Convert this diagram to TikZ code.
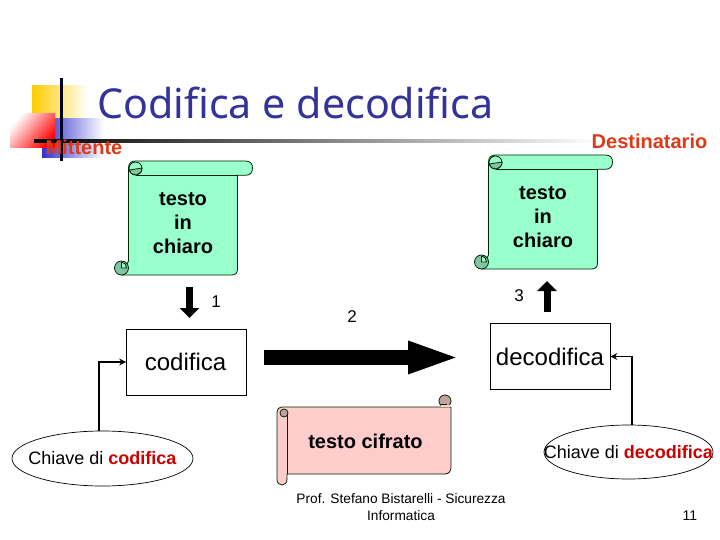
\documentclass[tikz,border=0pt]{standalone}
\usepackage{fontspec}
\setmainfont{Liberation Sans}
\newfontfamily\titlefont{Noto Sans}
\usetikzlibrary{arrows.meta,shapes.geometric}
\definecolor{mint}{HTML}{99FFCC}
\definecolor{mintdark}{HTML}{80C4A3}
\definecolor{rosey}{HTML}{FFCCCC}
\definecolor{rosedark}{HTML}{C4A0A0}
\definecolor{navy}{HTML}{333399}
\definecolor{keyred}{HTML}{CC0000}
\definecolor{tagred}{HTML}{DD3A1A}
\definecolor{tplyellow}{HTML}{FFCC00}
\definecolor{tplblue}{HTML}{3333CC}
\tikzset{
  x=1pt,y=-1pt,
  outl/.style={draw=black!85!green,line width=0.8pt,line join=round},
  tag/.style={font=\fontsize{20}{24}\selectfont\bfseries,text=tagred,inner sep=0pt},
  scrolltxt/.style={font=\fontsize{20}{24}\selectfont\bfseries,align=center,inner sep=0pt,text=black},
  boxy/.style={draw=black,line width=0.7pt,minimum width=120pt,font=\fontsize{24}{28}\selectfont,inner sep=0pt},
  keyell/.style={ellipse,draw=black,line width=0.7pt,inner sep=0pt},
  keytxt/.style={inner sep=0pt,font=\fontsize{18}{22}\selectfont},
  num/.style={font=\fontsize{17}{20}\selectfont,inner sep=0pt},
  blockarrow/.style={draw=black,line width=7pt,-{Triangle[length=10pt,width=19pt]}},
  linkarrow/.style={draw=black,line width=1.8pt,-{Stealth[length=7pt,width=7pt]}},
  greenscroll/.pic={
    \path[outl,fill=mint] (0,7) .. controls (0,2) and (3,0) .. (7,0) -- (117,0)
      .. controls (122,0) and (124,3) .. (124,7) .. controls (124,11) and (122,14.3) .. (117,14.3)
      -- (109,14.3) -- (109,108) .. controls (109,112) and (107,114) .. (103,114) -- (-7,114)
      -- (0,100) -- cycle;
    \path[outl] (7,14.3) -- (109,14.3);
    \path[outl,fill=mintdark] (-7,107) circle[radius=7pt];
    \path[outl,fill=mint] (-7,107) -- (-7,101) .. controls (-4,101) and (-2,104) .. (-2,107) -- cycle;
    \path[outl] (7,7.5) circle[radius=6.5pt];
    \path[outl,fill=mintdark] (1,9) .. controls (2,13) and (5,14) .. (8,14) .. controls (11,13) and (13.5,11) .. (13.5,7) -- cycle;
  }
}
\begin{document}
\begin{tikzpicture}
\useasboundingbox (0,0) rectangle (720,540);
\fill[white] (0,0) rectangle (720,540);
% template decoration
\shade[left color=tplyellow,middle color=tplyellow,right color=white] (32,86) rectangle (88,119);
\shade[left color=tplblue,middle color=tplblue,right color=white] (42,119) rectangle (104,158);
\shade[left color=white,right color=red,shading angle=50] (10,114) rectangle (55,148);
\shade[left color=black,right color=white] (34,140) rectangle (600,143);
\fill[black!85!blue] (60,78) rectangle (63,161);
\node[inner sep=0pt,text=navy,font=\titlefont\fontsize{41.2}{48}\selectfont,anchor=center] (title) at (295.5,103) {Codifica e decodifica};
\node[tag] (mitt) at (84,147) {Mittente};
\node[tag] (dest) at (649.5,141) {Destinatario};
% scrolls
\pic at (128.5,161) {greenscroll};
\pic at (488.5,155) {greenscroll};
\node[scrolltxt] (sL) at (183,223) {testo\hspace{6pt}\\in\hspace{6pt}\\chiaro};
\node[scrolltxt] (sR) at (543,217) {testo\hspace{6pt}\\in\hspace{6pt}\\chiaro};
% pink scroll
\path[outl,fill=rosedark] (445,401) circle[radius=6pt];
\path[outl,fill=rosey] (277,413) .. controls (277,409) and (279,407) .. (283,407) -- (451,407)
  -- (451,467) .. controls (451,471) and (449,474) .. (445,474) -- (287,474) -- (287,479)
  .. controls (287,483) and (285,485) .. (282,485) .. controls (279,485) and (277,483) .. (277,479) -- cycle;
\path[outl] (287,474) -- (287,414);
\path[draw=none,fill=rosey] (440.5,404.5) rectangle (449.5,406.5);
\path[outl] (440,404.5) -- (447,404.5);
\path[outl,fill=rosedark] (284,413) circle[radius=4pt];
\node[scrolltxt] (sC) at (365.5,441) {testo cifrato};
% boxes
\node[boxy,minimum height=66pt] (cod) at (186.5,362) {\hspace{-2pt}codifica};
\node[boxy,minimum height=66pt] (dec) at (550,356.5) {decodifica};
\node[keyell,minimum width=181pt,minimum height=55pt] (keyL) at (102.5,458.5) {};
\node[keyell,minimum width=169pt,minimum height=54pt] (keyR) at (628.5,452) {};
\node[keytxt] (keyLt) at (102.5,458.5) {Chiave di \textcolor{keyred}{\textbf{codifica}}};
\node[keytxt] (keyRt) at (628.5,452) {Chiave di \textcolor{keyred}{\textbf{decodifica}}};
% connectors
\coordinate (d1s) at (189.5,287);
\coordinate (d1e) at (189.5,318);
\coordinate (d3s) at (547,312);
\coordinate (d3e) at (547,281);
\coordinate (bigS) at (264,357.5);
\coordinate (bigE) at (461,357.5);
\draw[blockarrow] (d1s) -- (d1e);
\draw[blockarrow] (d3s) -- (d3e);
\draw[draw=black,line width=15pt,-{Triangle[length=53pt,width=29pt]}] (bigS) -- (bigE);
\draw[linkarrow] ([xshift=-3.5pt]keyL.north) |- (cod.west);
\draw[linkarrow] ([xshift=3.5pt]keyR.north) |- (dec.east);
\node[num] (n1) at (216,302) {1};
\node[num] (n2) at (352,317) {2};
\node[num] (n3) at (519,296) {3};
\node[align=center,inner sep=0pt,font=\fontsize{13.7}{17}\selectfont] (foot) at (401,507.5) {Prof. Stefano Bistarelli - Sicurezza\\Informatica};
\node[inner sep=0pt,font=\fontsize{14}{17}\selectfont] (pg) at (690,516) {11};
\end{tikzpicture}
\end{document}
